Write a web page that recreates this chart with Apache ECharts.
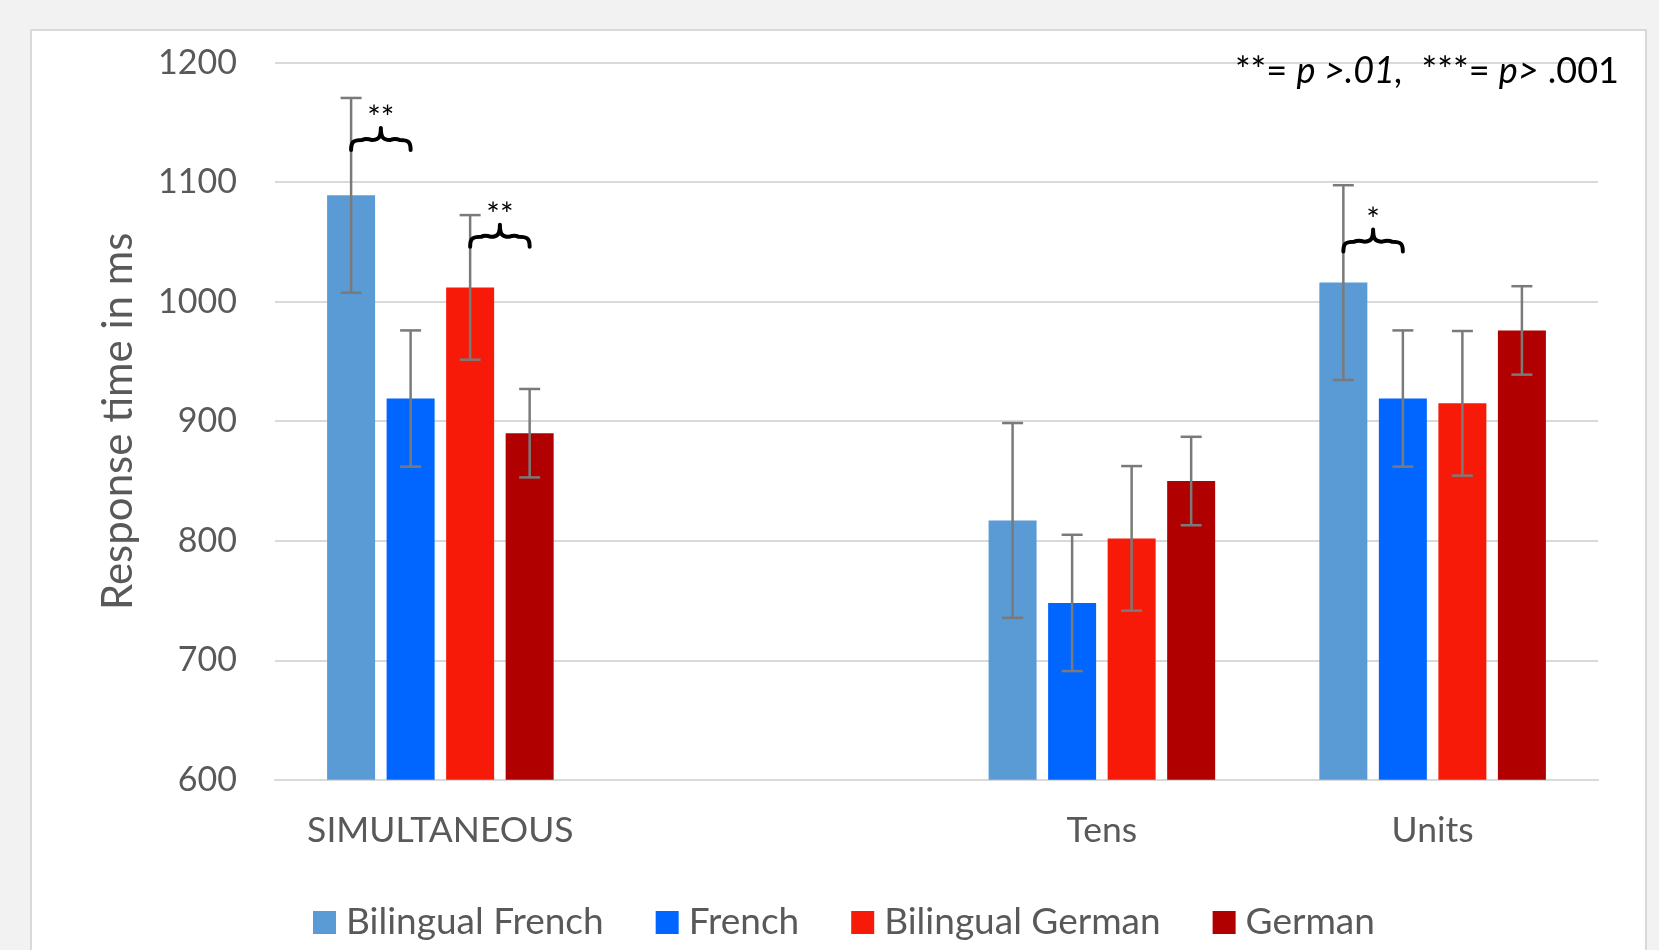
<!DOCTYPE html>
<html>
<head>
<meta charset="utf-8">
<script src="https://cdn.jsdelivr.net/npm/echarts@6/dist/echarts.min.js"></script>
<style>
  html, body { margin: 0; padding: 0; background: #f2f2f2; }
  #chart { width: 1659px; height: 950px; }
</style>
</head>
<body>
<div id="chart"></div>
<script>
// Conditions on the category axis (the empty slot keeps the gap after SIMULTANEOUS)
const categories = ['SIMULTANEOUS', '', 'Tens', 'Units'];
const seriesNames = ['Bilingual French', 'French', 'Bilingual German', 'German'];

// Mean response times (ms)
const bilingualFrench = [1089, null, 817, 1016];
const french          = [919,  null, 748, 919];
const bilingualGerman = [1012, null, 802, 915];
const german          = [890,  null, 850, 976];

// Error bar half-widths (ms)
const errBilingualFrench = [81.5, null, 81.5, 81.5];
const errFrench          = [57,   null, 57,   57];
const errBilingualGerman = [60.5, null, 60.5, 60.5];
const errGerman          = [37,   null, 37,   37];

// Significance braces: category, first bar, last bar, level (ms), stars
const braceCategory = [0, 0, 3];
const braceFrom     = [0, 2, 0];
const braceTo       = [1, 3, 1];
const braceLevel    = [1127, 1046, 1042];
const braceStars    = ['**', '**', '*'];

const yTicks = { min: 600, max: 1200, interval: 100 };

const colors = ['#5b9bd5', '#0066ff', '#f71a08', '#b00000'];
const FONT = 'Lato';
const BAR_WIDTH = 48;
const BAR_GAP = 0.24;

const means = [bilingualFrench, french, bilingualGerman, german];
const errs = [errBilingualFrench, errFrench, errBilingualGerman, errGerman];

// x centre of bar `idx` within a category centred at catX
function barCenterX(catX, idx) {
  const g = BAR_WIDTH * BAR_GAP;
  const total = 4 * BAR_WIDTH + 3 * g;
  return catX - total / 2 + BAR_WIDTH / 2 + idx * (BAR_WIDTH + g);
}

const barSeries = seriesNames.map((name, i) => ({
  type: 'bar',
  name: name,
  data: means[i],
  barWidth: BAR_WIDTH,
  barGap: (BAR_GAP * 100) + '%',
  itemStyle: { color: colors[i] },
  z: 2
}));

const errorSeries = means.map((m, idx) => {
  const data = [];
  m.forEach((v, i) => {
    if (v != null) data.push([i, v - errs[idx][i], v + errs[idx][i]]);
  });
  return {
    type: 'custom',
    name: 'err' + idx,
    data: data,
    encode: { x: 0, y: [1, 2] },
    z: 5,
    silent: true,
    renderItem(params, api) {
      const lo = api.coord([api.value(0), api.value(1)]);
      const hi = api.coord([api.value(0), api.value(2)]);
      const x = barCenterX(lo[0], idx);
      const cap = 10.5;
      const style = { stroke: '#7a7a7a', lineWidth: 2.5 };
      return {
        type: 'group',
        children: [
          { type: 'line', shape: { x1: x, y1: hi[1], x2: x, y2: lo[1] }, style },
          { type: 'line', shape: { x1: x - cap, y1: hi[1], x2: x + cap, y2: hi[1] }, style },
          { type: 'line', shape: { x1: x - cap, y1: lo[1], x2: x + cap, y2: lo[1] }, style }
        ]
      };
    }
  };
});

const braceSeries = {
  type: 'custom',
  name: 'significance',
  data: braceCategory.map((c, i) => [c, braceLevel[i], braceFrom[i], braceTo[i]]),
  encode: { x: 0, y: 1 },
  z: 6,
  silent: true,
  renderItem(params, api) {
    const p = api.coord([api.value(0), api.value(1)]);
    const x1 = barCenterX(p[0], api.value(2));
    const x2 = barCenterX(p[0], api.value(3));
    const yb = p[1], h = 22, ym = yb - h * 0.45, yt = yb - h;
    const xm = (x1 + x2) / 2, a = 11, b = 9;
    // curly brace: ends curl down, tip points up at the middle
    const path =
      'M' + x1 + ',' + yb +
      ' C' + x1 + ',' + (ym + 2) + ' ' + (x1 + 2) + ',' + ym + ' ' + (x1 + a) + ',' + ym +
      ' Q' + ((x1 + xm) / 2) + ',' + (ym - 2) + ' ' + (xm - b) + ',' + ym +
      ' C' + (xm - 2) + ',' + ym + ' ' + xm + ',' + (ym - 3) + ' ' + xm + ',' + yt +
      ' C' + xm + ',' + (ym - 3) + ' ' + (xm + 2) + ',' + ym + ' ' + (xm + b) + ',' + ym +
      ' Q' + ((x2 + xm) / 2) + ',' + (ym - 2) + ' ' + (x2 - a) + ',' + ym +
      ' C' + (x2 - 2) + ',' + ym + ' ' + x2 + ',' + (ym + 2) + ' ' + x2 + ',' + yb;
    return {
      type: 'group',
      children: [
        { type: 'path', shape: { pathData: path },
          style: { stroke: '#000', lineWidth: 4, fill: 'none', lineCap: 'round', lineJoin: 'round' } },
        { type: 'text',
          style: { text: braceStars[params.dataIndex], x: xm, y: yt - 9,
                   align: 'center', verticalAlign: 'middle',
                   font: '32px ' + FONT, fill: '#000' } }
      ]
    };
  }
};

const chart = echarts.init(document.getElementById('chart'));
chart.setOption({
  backgroundColor: '#f2f2f2',
  animation: false,
  textStyle: { fontFamily: FONT },
  graphic: [
    { type: 'rect', z: -10, silent: true,
      shape: { x: 31, y: 30, width: 1615, height: 940 },
      style: { fill: '#ffffff', stroke: '#d9d9d9', lineWidth: 2 } },
    { type: 'text', z: 10, x: 1619, y: 71,
      style: {
        text: '{s|**}{n|= }{i|p >.01,}{n|  }{s|***}{n|= }{i|p>}{n| .001}',
        align: 'right', verticalAlign: 'middle',
        rich: {
          n: { fontFamily: FONT, fontSize: 36, fill: '#000', color: '#000' },
          s: { fontFamily: FONT, fontSize: 37, fill: '#000', color: '#000' },
          i: { fontFamily: FONT, fontSize: 36, fontStyle: 'italic', fill: '#000', color: '#000' }
        }
      } }
  ],
  grid: { left: 275, right: 61, top: 62.7, bottom: 170.2, containLabel: false },
  legend: {
    data: seriesNames,
    left: 308,
    top: 899,
    itemWidth: 23,
    itemHeight: 23,
    itemGap: 52,
    icon: 'rect',
    textStyle: { fontSize: 37, color: '#595959', fontFamily: FONT, padding: [0, 0, 0, 5] }
  },
  xAxis: {
    type: 'category',
    data: categories,
    axisLine: { show: true, lineStyle: { color: '#d9d9d9', width: 2 } },
    axisTick: { show: false },
    axisLabel: { fontSize: 35.5, color: '#595959', margin: 33, interval: 0 }
  },
  yAxis: {
    type: 'value',
    min: yTicks.min,
    max: yTicks.max,
    interval: yTicks.interval,
    name: 'Response time in ms',
    nameLocation: 'middle',
    nameGap: 136,
    nameTextStyle: { fontSize: 42, color: '#595959' },
    axisLine: { show: false },
    axisTick: { show: false },
    axisLabel: { fontSize: 34, color: '#595959', margin: 38, formatter: (v) => String(v) },
    splitLine: { lineStyle: { color: '#d9d9d9', width: 2 } }
  },
  series: [...barSeries, ...errorSeries, braceSeries]
});
</script>
</body>
</html>
